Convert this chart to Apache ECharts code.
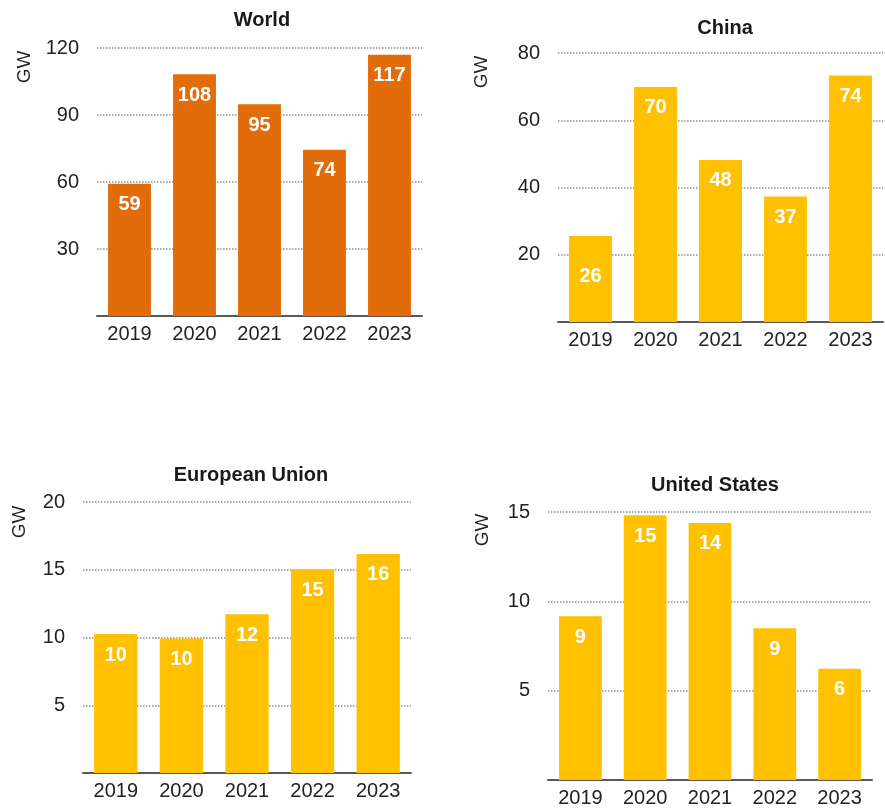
<!DOCTYPE html>
<html>
<head>
<meta charset="utf-8">
<script src="https://cdn.jsdelivr.net/npm/echarts@6/dist/echarts.min.js"></script>
<style>
  html, body { margin: 0; padding: 0; background: #fff; }
  #chart { width: 885px; height: 808px; }
</style>
</head>
<body>
<div id="chart"></div>
<script>
// Years shared by all four panels
var years = ['2019', '2020', '2021', '2022', '2023'];

// Bar heights (GW)
var worldValues = [59.2, 108.2, 94.8, 74.4, 117];
var chinaValues = [25.6, 69.9, 48.2, 37.3, 73.3];
var euValues = [10.25, 9.93, 11.72, 15.04, 16.17];
var usValues = [9.17, 14.82, 14.39, 8.5, 6.23];

// Rounded labels printed on the bars
var worldLabels = ['59', '108', '95', '74', '117'];
var chinaLabels = ['26', '70', '48', '37', '74'];
var euLabels = ['10', '10', '12', '15', '16'];
var usLabels = ['9', '15', '14', '9', '6'];

// Axis ranges
var worldAxis = { max: 120, interval: 30 };
var chinaAxis = { max: 80, interval: 20 };
var euAxis = { max: 20, interval: 5 };
var usAxis = { max: 15, interval: 5 };

var orange = '#E36C0A';
var gold = '#FFC000';
var font = 'Liberation Sans, Arial, sans-serif';

var chart = echarts.init(document.getElementById('chart'));

var panels = [
    { title: 'World', values: worldValues, labels: worldLabels, axis: worldAxis, color: orange,
      grid: { left: 97, right: 463, top: 48, bottom: 492 }, titlePos: [257, 5], gwPos: [25, 67] },
    { title: 'China', values: chinaValues, labels: chinaLabels, axis: chinaAxis, color: gold,
      grid: { left: 558, right: 2, top: 53, bottom: 486 }, titlePos: [720, 13], gwPos: [482, 72] },
    { title: 'European Union', values: euValues, labels: euLabels, axis: euAxis, color: gold,
      grid: { left: 83, right: 474, top: 502, bottom: 35 }, titlePos: [246, 460], gwPos: [20, 522] },
    { title: 'United States', values: usValues, labels: usLabels, axis: usAxis, color: gold,
      grid: { left: 548, right: 13, top: 512, bottom: 27 }, titlePos: [710, 470], gwPos: [483, 530] }
];

var option = {
    backgroundColor: '#fff',
    animation: false,
    title: [],
    grid: [],
    xAxis: [],
    yAxis: [],
    series: [],
    graphic: []
};

panels.forEach(function (p, i) {
    option.title.push({
        text: p.title,
        left: p.titlePos[0],
        top: p.titlePos[1],
        textAlign: 'center',
        textStyle: { fontFamily: font, fontSize: 20, fontWeight: 'bold', color: '#1a1a1a' }
    });
    option.grid.push(p.grid);
    option.xAxis.push({
        type: 'category',
        gridIndex: i,
        data: years,
        axisTick: { show: false },
        axisLine: { lineStyle: { color: '#595959', width: 2 } },
        axisLabel: { fontFamily: font, fontSize: 20, color: '#222', margin: 8 }
    });
    option.yAxis.push({
        type: 'value',
        gridIndex: i,
        min: 0,
        max: p.axis.max,
        interval: p.axis.interval,
        axisLine: { show: false },
        axisTick: { show: false },
        axisLabel: {
            fontFamily: font, fontSize: 20, color: '#222', margin: 18,
            formatter: function (v) { return v === 0 ? '' : v; }
        },
        splitLine: { lineStyle: { color: '#8f8f8f', type: 'dotted', width: 1.5 } }
    });
    option.series.push({
        type: 'bar',
        xAxisIndex: i,
        yAxisIndex: i,
        barWidth: '66%',
        itemStyle: { color: p.color },
        data: p.values.map(function (v, j) {
            var item = { value: v };
            // the China 2019 label sits lower than the others
            if (p.title === 'China' && j === 0) {
                item.label = { distance: 31 };
            }
            return item;
        }),
        label: {
            show: true,
            position: 'insideTop',
            distance: 11,
            fontFamily: font,
            fontSize: 20,
            fontWeight: 'bold',
            color: '#fff',
            formatter: function (params) {
                return p.labels[params.dataIndex];
            }
        }
    });
    option.graphic.push({
        type: 'text',
        x: p.gwPos[0],
        y: p.gwPos[1],
        rotation: Math.PI / 2,
        style: {
            text: 'GW',
            fontFamily: font,
            fontSize: 19,
            fill: '#222',
            align: 'center',
            verticalAlign: 'middle'
        }
    });
});

chart.setOption(option);

window.addEventListener('resize', function () {
    chart.resize();
});
</script>
</body>
</html>
